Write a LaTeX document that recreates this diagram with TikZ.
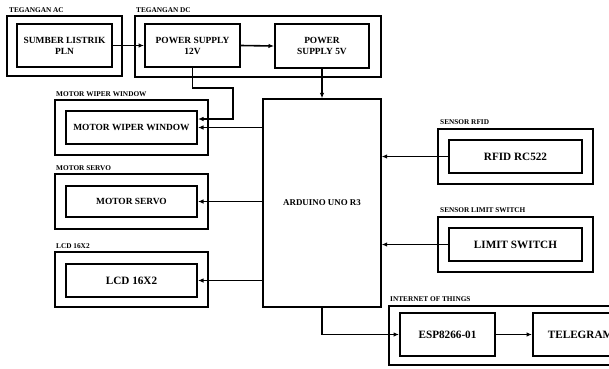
\documentclass[tikz,border=0pt]{standalone}
\usepackage{fontspec}
\setmainfont{Liberation Serif}
\usetikzlibrary{arrows.meta}
\tikzset{
  outerbox/.style={draw, line width=2.6pt, inner sep=0pt},
  innerbox/.style={draw, line width=2pt, inner sep=0pt, align=center, font=\bfseries\fontsize{9.4}{11}\selectfont},
  bigtxt/.style={font=\bfseries\fontsize{11.2}{13}\selectfont},
  grplabel/.style={anchor=base west, inner sep=0pt, font=\bfseries\fontsize{7.3}{8}\selectfont},
  conn/.style={line width=1.6pt},
  arr/.style={conn, -{Latex[length=5.5pt,width=4.5pt]}},
}
\begin{document}
\begin{tikzpicture}[x=1pt,y=-1pt]
\useasboundingbox (0,0) rectangle (609,368);
\clip (0,0) rectangle (609,368);
% Tegangan AC
\node[outerbox, minimum width=115, minimum height=60] (acbox) at (64.5,46) {};
\node[grplabel] (aclab) at (9,12) {TEGANGAN AC};
\node[innerbox, minimum width=95, minimum height=43] (pln) at (64.5,45.5) {SUMBER LISTRIK\\PLN};
% Tegangan DC
\node[outerbox, minimum width=246, minimum height=61] (dcbox) at (258,46.5) {};
\node[grplabel] (dclab) at (136,12) {TEGANGAN DC};
\node[innerbox, minimum width=95, minimum height=43] (ps12) at (192.5,45.5) {POWER SUPPLY\\12V};
\node[innerbox, minimum width=94, minimum height=44] (ps5) at (322,46) {POWER\\SUPPLY 5V};
% Arduino
\node[draw, line width=1.3pt, minimum width=118, minimum height=208, font=\bfseries\fontsize{8.9}{10}\selectfont] (ard) at (322,203) {ARDUINO UNO R3};
% Motor wiper window
\node[outerbox, minimum width=153, minimum height=55] (wobox) at (131.5,127.5) {};
\node[grplabel] (wolab) at (56,96) {MOTOR WIPER WINDOW};
\node[innerbox, minimum width=131, minimum height=33] (wi) at (131.5,127.5) {MOTOR WIPER WINDOW};
% Motor servo
\node[outerbox, minimum width=153, minimum height=55] (sobox) at (131.5,201.5) {};
\node[grplabel] (solab) at (56,170) {MOTOR SERVO};
\node[innerbox, minimum width=131, minimum height=31] (si) at (131.5,201.5) {MOTOR SERVO};
% LCD
\node[outerbox, minimum width=153, minimum height=55] (lobox) at (131.5,279.5) {};
\node[grplabel] (lolab) at (56,248) {LCD 16X2};
\node[innerbox, bigtxt, minimum width=131, minimum height=33] (li) at (131.5,280.5) {LCD 16X2};
% RFID
\node[outerbox, minimum width=155, minimum height=55] (robox) at (515.5,156.5) {};
\node[grplabel] (rolab) at (440,124.5) {SENSOR RFID};
\node[innerbox, bigtxt, minimum width=133, minimum height=33] (ri) at (515.5,156.5) {RFID RC522};
% Limit switch
\node[outerbox, minimum width=155, minimum height=55] (lsbox) at (515.5,244.5) {};
\node[grplabel] (lslab) at (440,212.5) {SENSOR LIMIT SWITCH};
\node[innerbox, bigtxt, minimum width=133, minimum height=33] (lsi) at (515.5,244.5) {LIMIT SWITCH};
% IoT
\node[outerbox, minimum width=252, minimum height=59] (iotbox) at (515,335.5) {};
\node[grplabel] (iotlab) at (390,301.5) {INTERNET OF THINGS};
\node[innerbox, bigtxt, minimum width=95, minimum height=43] (esp) at (447.5,334.5) {ESP8266-01};
\node[innerbox, bigtxt, minimum width=95, minimum height=43] (tel) at (580.5,334.5) {TELEGRAM};
% connectors
\draw[arr] (pln.east) -- (ps12.west);
\draw[arr] (ps12.east) -- (ps5.west);
\draw[arr] (ps5.south) -- (ard.north);
\coordinate (k1) at (233,88);
\draw[arr] (ps12.south) |- (k1) |- ([yshift=8.5pt]wi.east);
\draw[arr] (ard.west |- wi.east) -- (wi.east);
\draw[arr] (ard.west |- si.east) -- (si.east);
\draw[arr] (ard.west |- li.east) -- (li.east);
\draw[arr] (ri.west) -- (ri.west -| ard.east);
\draw[arr] (lsi.west) -- (lsi.west -| ard.east);
\draw[arr] (ard.south) |- (esp.west);
\draw[arr] (esp.east) -- (tel.west);
\end{tikzpicture}
\end{document}
